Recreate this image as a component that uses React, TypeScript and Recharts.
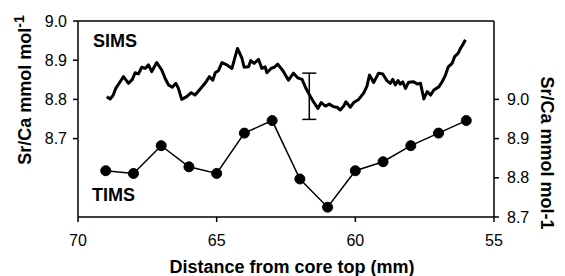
import React from 'react';
import {
  ComposedChart,
  Line,
  Scatter,
  XAxis,
  YAxis,
  ErrorBar,
  ReferenceLine,
  Label,
  Customized,
} from 'recharts';

const FONT = '"Liberation Sans", Arial, Helvetica, sans-serif';

// SIMS Sr/Ca profile (left axis)
const simsDistance = [
  68.96, 68.84, 68.73, 68.64, 68.48, 68.36, 68.18, 68.04, 67.94, 67.82,
  67.7, 67.58, 67.46, 67.34, 67.16, 66.98, 66.86, 66.74, 66.6, 66.47,
  66.38, 66.26, 66.08, 65.92, 65.78, 65.6, 65.42, 65.26, 65.14, 65.05,
  64.94, 64.81, 64.63, 64.45, 64.25, 64.09, 64.01, 63.85, 63.77, 63.65,
  63.49, 63.37, 63.25, 63.19, 63.04, 62.92, 62.8, 62.61, 62.41, 62.23,
  62.08, 61.92, 61.8, 61.65, 61.51, 61.35, 61.23, 61.08, 60.94, 60.78,
  60.66, 60.54, 60.42, 60.34, 60.18, 60.06, 59.88, 59.7, 59.58, 59.49,
  59.34, 59.16, 59.01, 58.86, 58.74, 58.65, 58.56, 58.46, 58.38, 58.29,
  58.19, 58.08, 57.9, 57.77, 57.65, 57.53, 57.41, 57.29, 57.17, 56.99,
  56.87, 56.75, 56.65, 56.51, 56.42, 56.29, 56.21, 56.13, 56.03,
];
const simsSrCa = [
  8.807, 8.801, 8.811, 8.828, 8.845, 8.858, 8.841, 8.851, 8.868, 8.865,
  8.882, 8.879, 8.888, 8.871, 8.894, 8.875, 8.854, 8.837, 8.831, 8.841,
  8.828, 8.8, 8.807, 8.817, 8.811, 8.826, 8.841, 8.858, 8.849, 8.868,
  8.873, 8.894, 8.888, 8.879, 8.93, 8.905, 8.882, 8.883, 8.899, 8.892,
  8.902, 8.879, 8.883, 8.868, 8.879, 8.882, 8.89, 8.873, 8.849, 8.867,
  8.855, 8.851, 8.831, 8.811, 8.794, 8.777, 8.792, 8.783, 8.788, 8.781,
  8.78, 8.773, 8.783, 8.794, 8.78, 8.792, 8.8, 8.816, 8.834, 8.862,
  8.843, 8.867, 8.865, 8.848, 8.841, 8.851, 8.837, 8.848, 8.839, 8.845,
  8.828, 8.844, 8.845, 8.839, 8.841, 8.801, 8.82, 8.811, 8.824, 8.832,
  8.845, 8.862, 8.883, 8.892, 8.909, 8.918, 8.93, 8.939, 8.952,
];

// TIMS Sr/Ca (right axis)
const timsDistance = [69, 68, 67, 66, 65, 64, 63, 62, 61, 60, 59, 58, 57, 56];
const timsSrCa = [
  8.818, 8.811, 8.882, 8.828, 8.811, 8.914, 8.946, 8.797, 8.725, 8.818,
  8.841, 8.882, 8.914, 8.946,
];

// SIMS error bar
const errDistance = [61.66];
const errCenter = [8.808];
const errHalf = [0.059];

const xTicks = [70, 65, 60, 55];
const leftTicks = [8.7, 8.8, 8.9, 9.0];
const rightTicks = [8.7, 8.8, 8.9, 9.0];
const leftDomain = [8.5, 9.0];
const rightDomain = [8.7, 9.2];
const xDomain = [55, 70];

const simsData = simsDistance.map((d, i) => ({ d, v: simsSrCa[i] }));
const timsData = timsDistance.map((d, i) => ({ d, v: timsSrCa[i] }));
const errData = errDistance.map((d, i) => ({ d, v: errCenter[i], e: errHalf[i] }));

const XTitle = (props: any) => {
  const vb = props.viewBox || {};
  const cx = vb.x + vb.width / 2 + 6;
  return (
    <text x={cx} y={273} textAnchor="middle" fontFamily={FONT} fontSize={18} fontWeight="bold" fill="#000">
      Distance from core top (mm)
    </text>
  );
};

const LeftTitle = () => (
  <text
    x={31}
    y={90}
    transform="rotate(-90, 31, 90)"
    textAnchor="middle"
    fontFamily={FONT}
    fontSize={18}
    fontWeight="bold"
    fill="#000"
  >
    Sr/Ca mmol mol
    <tspan dy={-7} fontSize={14}>-1</tspan>
  </text>
);

const RightTitle = () => (
  <text
    x={541}
    y={153}
    transform="rotate(90, 541, 153)"
    textAnchor="middle"
    fontFamily={FONT}
    fontSize={18}
    fontWeight="bold"
    fill="#000"
  >
    Sr/Ca mmol mol-1
  </text>
);

const SeriesNames = () => (
  <g fontFamily={FONT} fontSize={18} fontWeight="bold" fill="#000">
    <text x={93} y={47}>SIMS</text>
    <text x={92} y={201}>TIMS</text>
  </g>
);

const axisLine = { stroke: '#000', strokeWidth: 1.5 };
const tickLine = { stroke: '#000', strokeWidth: 1.5 };
const tickStyle = { fill: '#000', fontSize: 16, fontFamily: FONT };

export default function App() {
  return (
    <div style={{ position: 'absolute', left: 0, top: 0, width: 565, height: 276, background: '#fff' }}>
      <ComposedChart
        width={565}
        height={276}
        margin={{ top: 21, right: 21, bottom: 29, left: 18 }}
      >
        <XAxis
          dataKey="d"
          type="number"
          domain={xDomain}
          ticks={xTicks}
          reversed
          interval={0}
          axisLine={axisLine}
          tickLine={tickLine}
          tickSize={5}
          tickMargin={13}
          tick={tickStyle}
          height={30}
          allowDataOverflow
        >
          <Label content={<XTitle />} />
        </XAxis>
        <YAxis
          yAxisId="left"
          orientation="left"
          type="number"
          domain={leftDomain}
          ticks={leftTicks}
          interval={0}
          width={60}
          axisLine={axisLine}
          tickLine={tickLine}
          tickSize={5}
          tickMargin={6}
          tick={tickStyle}
          tickFormatter={(v: number) => v.toFixed(1)}
          allowDataOverflow
        >
          <Label content={<LeftTitle />} />
        </YAxis>
        <YAxis
          yAxisId="right"
          orientation="right"
          type="number"
          domain={rightDomain}
          ticks={rightTicks}
          interval={0}
          width={50}
          axisLine={axisLine}
          tickLine={tickLine}
          tickSize={5}
          tickMargin={8}
          tick={tickStyle}
          tickFormatter={(v: number) => v.toFixed(1)}
          allowDataOverflow
        >
          <Label content={<RightTitle />} />
        </YAxis>
        <ReferenceLine yAxisId="left" y={9.0} stroke="#000" strokeWidth={1.5} ifOverflow="visible" />
        <Line
          data={simsData}
          dataKey="v"
          yAxisId="left"
          type="linear"
          stroke="#000"
          strokeWidth={3}
          strokeLinejoin="round"
          dot={false}
          activeDot={false}
          isAnimationActive={false}
        />
        <Line
          data={timsData}
          dataKey="v"
          yAxisId="right"
          type="linear"
          stroke="#000"
          strokeWidth={1.5}
          dot={{ r: 5, fill: '#000', stroke: '#000', strokeWidth: 1 }}
          activeDot={false}
          isAnimationActive={false}
        />
        <Scatter
          data={errData}
          dataKey="v"
          yAxisId="left"
          shape={() => <g />}
          isAnimationActive={false}
        >
          <ErrorBar dataKey="e" direction="y" width={7} stroke="#000" strokeWidth={1.5} isAnimationActive={false} />
        </Scatter>
        <Customized component={<SeriesNames />} />
      </ComposedChart>
    </div>
  );
}
